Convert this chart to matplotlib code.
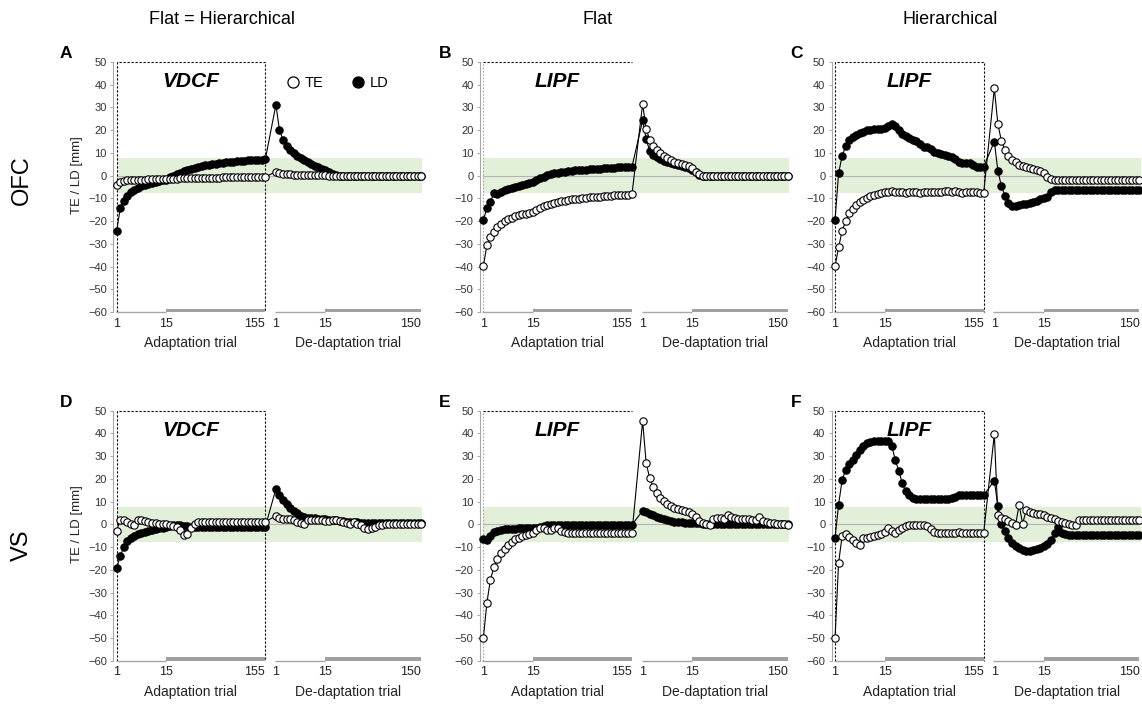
import numpy as np
import matplotlib.pyplot as plt
from matplotlib.lines import Line2D

plt.rcParams['font.family'] = ['Liberation Sans', 'DejaVu Sans']

# titles / labels
col_titles = ["Flat = Hierarchical", "Flat", "Hierarchical"]
row_titles = ["OFC", "VS"]
panel_letters = ["A", "B", "C", "D", "E", "F"]
controllers = ["VDCF", "LIPF", "LIPF", "VDCF", "LIPF", "LIPF"]
adapt_ticks = ["1", "15", "155"]
deadapt_ticks = ["1", "15", "150"]

# values: trials 1-15 one by one, after that means of 5 trials
# A  OFC, flat = hierarchical
a_ad_te = [-4.0, -2.8, -2.3, -2.0, -1.9, -1.8, -1.8, -1.7, -1.7, -1.6, -1.6, -1.5, -1.5, -1.5, -1.4,
           -1.4, -1.3, -1.3, -1.2, -1.2, -1.1, -1.1, -1.1, -1.0, -1.0, -1.0, -0.9, -0.9, -0.9,
           -0.9, -0.8, -0.8, -0.8, -0.8, -0.8, -0.7, -0.7, -0.7, -0.7, -0.7, -0.6, -0.6, -0.6]
a_ad_ld = [-24.5, -14.4, -11.0, -8.8, -7.3, -6.2, -5.4, -4.7, -4.1, -3.6, -3.2, -2.8, -2.5, -2.1, -1.8,
           -0.8, -0.1, 0.6, 1.3, 1.9, 2.5, 3.0, 3.4, 3.8, 4.2, 4.5, 4.8, 5.1, 5.3,
           5.5, 5.7, 5.9, 6.1, 6.2, 6.3, 6.5, 6.6, 6.7, 6.8, 6.9, 7.0, 7.1, 7.2]
a_de_te = [1.8, 1.2, 0.9, 0.7, 0.6, 0.5, 0.4, 0.4, 0.3, 0.3, 0.2, 0.2, 0.2, 0.1, 0.1,
           0.0, 0.0, 0.0, 0.0, 0.0, 0.0, 0.0, 0.0, 0.0, 0.0, 0.0, 0.0, 0.0, 0.0,
           0.0, 0.0, 0.0, 0.0, 0.0, 0.0, 0.0, 0.0, 0.0, 0.0, 0.0, 0.0, 0.0]
a_de_ld = [31.2, 20.0, 15.9, 13.2, 11.5, 10.0, 8.8, 7.8, 6.8, 6.0, 5.2, 4.4, 3.7, 3.0, 2.4,
           1.6, 0.6, 0.1, 0.0, 0.0, 0.0, 0.0, 0.0, 0.0, 0.0, 0.0, 0.0, 0.0, 0.0,
           0.0, 0.0, 0.0, 0.0, 0.0, 0.0, 0.0, 0.0, 0.0, 0.0, 0.0, 0.0, 0.0]

# B  OFC, flat
b_ad_te = [-39.9, -30.6, -26.9, -24.6, -22.6, -21.3, -20.1, -19.3, -18.5, -17.9, -17.5, -17.1, -16.8, -16.5, -15.9,
           -15.0, -14.2, -13.5, -12.9, -12.4, -12.0, -11.6, -11.3, -11.0, -10.7, -10.5, -10.3, -10.1, -9.9,
           -9.7, -9.6, -9.4, -9.3, -9.2, -9.0, -8.9, -8.8, -8.7, -8.6, -8.5, -8.4, -8.3, -8.1]
b_ad_ld = [-19.6, -14.3, -11.6, -7.6, -8.1, -7.2, -6.5, -5.9, -5.4, -5.0, -4.6, -4.1, -3.7, -3.4, -2.9,
           -2.0, -1.2, -0.5, 0.1, 0.6, 1.0, 1.3, 1.6, 1.8, 2.0, 2.2, 2.3, 2.5, 2.6,
           2.7, 2.8, 2.9, 3.0, 3.1, 3.2, 3.3, 3.4, 3.5, 3.6, 3.7, 3.8, 3.9, 4.0]
b_de_te = [31.6, 20.4, 15.9, 13.2, 11.5, 10.0, 8.5, 7.6, 6.8, 6.2, 5.6, 5.1, 4.7, 4.1, 3.5,
           1.8, 0.6, 0.0, 0.0, 0.0, 0.0, 0.0, 0.0, 0.0, 0.0, 0.0, 0.0, 0.0, 0.0,
           0.0, 0.0, 0.0, 0.0, 0.0, 0.0, 0.0, 0.0, 0.0, 0.0, 0.0, 0.0, 0.0]
b_de_ld = [24.3, 16.2, 10.7, 9.3, 8.2, 7.4, 6.6, 6.0, 5.4, 5.0, 4.6, 4.1, 3.7, 3.2, 2.6,
           1.5, 0.4, 0.0, 0.0, 0.0, 0.0, 0.0, 0.0, 0.0, 0.0, 0.0, 0.0, 0.0, 0.0,
           0.0, 0.0, 0.0, 0.0, 0.0, 0.0, 0.0, 0.0, 0.0, 0.0, 0.0, 0.0, 0.0]

# C  OFC, hierarchical
c_ad_te = [-39.9, -31.6, -24.3, -20.0, -16.6, -14.7, -13.1, -11.8, -10.7, -9.7, -9.0, -8.4, -7.9, -7.5, -7.2,
           -7.0, -6.8, -7.2, -7.4, -7.3, -7.5, -7.3, -7.2, -7.4, -7.5, -7.3, -7.2, -7.0, -7.2,
           -7.4, -7.1, -6.9, -6.8, -7.0, -6.9, -7.3, -7.5, -7.4, -7.2, -7.0, -7.3, -7.5, -7.5]
c_ad_ld = [-19.6, 1.0, 8.7, 12.9, 15.9, 17.1, 18.1, 18.8, 19.4, 19.9, 20.1, 20.4, 20.6, 20.7, 21.0,
           22.0, 22.8, 21.8, 20.0, 18.3, 17.5, 16.6, 15.9, 15.2, 14.0, 12.8, 12.4, 11.6, 10.6,
           10.0, 9.6, 9.0, 8.6, 8.0, 7.4, 5.8, 5.4, 5.4, 5.5, 4.8, 3.8, 3.7, 3.9]
c_de_te = [38.4, 22.7, 15.3, 11.4, 8.5, 7.0, 5.9, 4.9, 4.2, 3.7, 3.3, 2.9, 2.5, 1.9, 1.2,
           -0.4, -1.4, -2.0, -2.1, -2.1, -2.1, -2.1, -2.1, -2.1, -2.1, -2.1, -2.1, -2.1, -2.1,
           -2.1, -2.1, -2.1, -2.1, -2.1, -2.1, -2.1, -2.1, -2.1, -2.1, -2.1, -2.1, -2.1]
c_de_ld = [15.0, 2.2, -4.7, -8.8, -12.0, -13.4, -13.3, -13.0, -12.6, -12.3, -11.9, -11.5, -11.0, -10.5, -9.9,
           -9.2, -7.0, -6.5, -6.5, -6.5, -6.5, -6.5, -6.5, -6.5, -6.5, -6.5, -6.5, -6.5, -6.5,
           -6.5, -6.5, -6.5, -6.5, -6.5, -6.5, -6.5, -6.5, -6.5, -6.5, -6.5, -6.5, -6.5]

# D  VS, flat = hierarchical
d_ad_te = [-2.9, 2.1, 1.8, 1.0, 0.3, -0.4, 1.8, 2.1, 1.5, 1.0, 0.6, 0.4, 0.2, 0.0, 0.3,
           -0.2, -0.6, -1.2, -2.3, -4.8, -4.1, -1.5, 0.3, 0.9, 1.0, 1.0, 1.0, 1.0, 1.0,
           1.0, 1.0, 1.0, 1.0, 1.0, 1.0, 1.0, 1.1, 1.1, 1.1, 1.1, 1.1, 1.1, 1.1]
d_ad_ld = [-19.4, -14.0, -10.0, -7.5, -6.0, -5.0, -4.3, -3.7, -3.2, -2.8, -2.4, -2.1, -1.8, -1.5, -1.2,
           -0.8, -0.5, -0.3, -0.3, -0.6, -0.9, -1.0, -1.0, -1.0, -1.0, -1.0, -1.0, -1.0, -1.0,
           -1.0, -1.0, -1.0, -1.0, -1.0, -1.0, -1.0, -1.0, -1.0, -1.0, -1.0, -1.0, -1.0, -1.0]
d_de_te = [3.8, 2.9, 2.3, 2.2, 2.5, 1.8, 1.0, 0.4, 0.0, 1.8, 2.1, 2.0, 1.9, 1.7, 1.5,
           1.5, 2.0, 2.0, 1.5, 1.0, 0.7, 0.3, 0.9, 0.2, -0.5, -1.5, -1.9, -1.8, -1.3,
           -0.5, -0.1, 0.0, 0.0, 0.0, 0.0, 0.0, 0.0, 0.0, 0.0, 0.0, 0.0, 0.0]
d_de_ld = [15.6, 12.8, 10.8, 8.9, 7.4, 6.0, 4.8, 3.8, 3.2, 2.9, 2.8, 2.7, 2.5, 2.4, 2.3,
           2.1, 2.0, 1.8, 1.6, 1.4, 1.2, 1.1, 1.0, 0.9, 0.8, 0.7, 0.7, 0.7, 0.7,
           0.7, 0.7, 0.7, 0.7, 0.7, 0.7, 0.7, 0.7, 0.7, 0.7, 0.7, 0.7, 0.7]

# E  VS, flat
e_ad_te = [-50.1, -34.6, -24.3, -18.9, -15.4, -12.7, -10.7, -9.1, -7.8, -6.6, -5.8, -5.1, -4.5, -4.1, -3.9,
           -2.5, -1.8, -1.6, -2.4, -2.4, -1.8, -1.6, -2.8, -3.5, -3.7, -3.7, -3.7, -3.7, -3.7,
           -3.7, -3.7, -3.7, -3.7, -3.7, -3.7, -3.7, -3.7, -3.7, -3.7, -3.7, -3.7, -3.7, -3.7]
e_ad_ld = [-6.6, -7.0, -5.0, -3.5, -2.8, -2.3, -2.1, -2.0, -1.9, -1.9, -1.8, -1.8, -1.8, -1.7, -1.7,
           -1.4, -1.0, -0.7, -0.5, -0.3, -0.2, -0.2, -0.2, -0.2, -0.2, -0.2, -0.2, -0.2, -0.2,
           -0.2, -0.2, -0.2, -0.2, -0.2, -0.2, -0.2, -0.2, -0.2, -0.2, -0.2, -0.2, -0.2, -0.2]
e_de_te = [45.5, 26.9, 20.3, 16.5, 13.9, 11.8, 10.2, 8.9, 7.9, 7.2, 6.6, 6.1, 5.7, 5.3, 4.5,
           3.1, 1.6, 0.7, 0.1, -0.1, 2.2, 2.8, 2.8, 2.3, 4.2, 3.1, 2.8, 2.5, 2.3,
           2.2, 2.2, 2.0, 1.9, 3.4, 1.6, 1.2, 0.7, 0.4, 0.3, 0.1, 0.0, -0.3]
e_de_ld = [6.0, 5.3, 4.5, 3.9, 3.4, 2.8, 2.3, 1.9, 1.5, 1.2, 1.0, 0.9, 0.8, 0.7, 0.6,
           0.5, 0.4, 0.3, 0.2, 0.2, 0.2, 0.2, 0.2, 0.2, 0.2, 0.2, 0.2, 0.2, 0.2,
           0.2, 0.2, 0.2, 0.2, 0.2, 0.2, 0.2, 0.2, 0.2, 0.2, 0.2, 0.2, 0.2]

# F  VS, hierarchical
f_ad_te = [-50.1, -17.0, -5.2, -4.4, -5.5, -7.0, -8.3, -9.0, -6.2, -5.8, -5.6, -5.2, -4.8, -4.2, -3.2,
           -1.6, -2.8, -4.0, -2.5, -1.4, -0.8, -0.5, -0.4, -0.4, -0.4, -0.5, -0.9, -1.9, -3.2,
           -3.6, -4.0, -4.0, -4.0, -4.0, -3.7, -3.5, -3.6, -3.6, -3.6, -3.6, -3.6, -3.6, -3.6]
f_ad_ld = [-6.0, 8.7, 19.5, 24.0, 26.5, 28.3, 30.5, 32.6, 34.6, 35.6, 36.2, 36.5, 36.6, 36.7, 36.7,
           36.6, 34.6, 28.5, 23.5, 18.0, 14.5, 12.8, 11.8, 11.2, 11.0, 11.0, 11.0, 11.0, 11.0,
           11.0, 11.0, 11.0, 11.0, 11.5, 12.2, 12.8, 12.8, 12.8, 12.8, 12.8, 12.8, 12.8, 12.8]
f_de_te = [39.6, 4.0, 3.0, 2.2, 1.5, 0.8, -0.2, 8.5, 0.3, 6.2, 5.6, 5.1, 4.7, 4.4, 4.0,
           3.3, 2.7, 2.2, 1.6, 1.1, 0.6, 0.2, -0.2, -0.4, 1.8, 1.8, 1.8, 1.8, 1.8,
           1.8, 1.8, 1.8, 1.9, 1.9, 1.9, 1.9, 1.9, 1.9, 2.0, 2.0, 2.0, 2.0]
f_de_ld = [19.2, 8.1, 0.3, -2.9, -5.9, -8.1, -9.5, -10.5, -11.4, -11.7, -11.6, -11.3, -10.8, -10.3, -9.6,
           -8.8, -7.0, -4.0, -1.2, -3.8, -4.3, -4.5, -4.5, -4.5, -4.5, -4.5, -4.5, -4.5, -4.5,
           -4.5, -4.5, -4.5, -4.5, -4.5, -4.5, -4.5, -4.5, -4.5, -4.5, -4.5, -4.5, -4.5]

panels = [
    (a_ad_te, a_ad_ld, a_de_te, a_de_ld),
    (b_ad_te, b_ad_ld, b_de_te, b_de_ld),
    (c_ad_te, c_ad_ld, c_de_te, c_de_ld),
    (d_ad_te, d_ad_ld, d_de_te, d_de_ld),
    (e_ad_te, e_ad_ld, e_de_te, e_de_ld),
    (f_ad_te, f_ad_ld, f_de_te, f_de_ld),
]

W, H = 1142, 704
GAP = 3          # empty slots between the two phases
BAND = 7.7       # green target band
green = '#e2efd9'
grey = '#a6a6a6'

fig = plt.figure(figsize=(W / 100, H / 100), dpi=100)

lefts = [113.1, 479.8, 831.5]     # px
bottoms = [312.0, 660.7]          # px of the y=-60 line
ax_w, ax_h = 311.5, 250.0


def draw_panel(ax, ad_te, ad_ld, de_te, de_ld, ctrl, closed):
    x_ad = np.arange(len(ad_te))
    x_de = x_ad[-1] + GAP + np.arange(len(de_te))
    x = np.concatenate([x_ad, x_de])
    te = np.concatenate([ad_te, de_te])
    ld = np.concatenate([ad_ld, de_ld])

    ax.fill_between([x[0], x[-1] + 0.4], -BAND, BAND, color=green, lw=0, zorder=0)
    ax.plot([x[0], x[-1]], [0, 0], color='#b4b4b4', lw=0.8, zorder=1)

    # dashed frame round the adaptation phase
    if closed:
        ax.plot([x_ad[0], x_ad[0], x_ad[-1], x_ad[-1]], [-60, 50, 50, -60],
                color='black', lw=0.8, ls=(0, (2, 1.6)), zorder=2, clip_on=False)
    else:
        ax.plot([x_ad[0], x_ad[0]], [-60, 50], color=grey, lw=0.8, ls=(0, (1.5, 1.5)),
                zorder=2, clip_on=False)
        ax.plot([x_ad[0], x_ad[-1]], [50, 50], color='black', lw=0.8, ls=(0, (2, 1.6)),
                zorder=2, clip_on=False)

    ax.plot(x, ld, '-o', color='black', lw=0.8, ms=5.3, mfc='black', mec='black',
            mew=0.8, zorder=3, clip_on=False)
    ax.plot(x, te, '-o', color='black', lw=0.8, ms=5.3, mfc='white', mec='black',
            mew=0.8, zorder=4, clip_on=False)

    # x axis: thin line for single trials, thick bar for binned trials
    for seg in (x_ad, x_de):
        ax.plot([seg[0] - 0.3, seg[14]], [-60, -60], color=grey, lw=1.0, zorder=2,
                clip_on=False, solid_capstyle='butt')
        ax.fill_between([seg[14], seg[-1]], -60, -58.5, color='#a0a0a0', lw=0,
                        zorder=2, clip_on=False)

    ax.set_xlim(-1, x[-1] + 1)
    ax.set_ylim(-60, 50)
    ax.set_yticks(np.arange(-60, 51, 10))
    ax.set_xticks([x_ad[0], x_ad[14], x_ad[-1], x_de[0], x_de[14], x_de[-1]])
    ax.set_xticklabels(adapt_ticks + deadapt_ticks)
    for i, lab in enumerate(ax.get_xticklabels()):
        if i in (2, 5):
            lab.set_horizontalalignment('right')
    ax.tick_params(axis='x', length=0, pad=4, labelsize=9, colors='#222222')
    ax.tick_params(axis='y', length=2.5, width=0.7, pad=2, labelsize=8,
                   colors=grey, labelcolor='#333333')
    for s in ('top', 'right', 'bottom'):
        ax.spines[s].set_visible(False)
    ax.spines['left'].set_color(grey)
    ax.spines['left'].set_linewidth(0.8)
    ax.set_facecolor('none')

    for seg, lab in ((x_ad, "Adaptation trial"), (x_de, "De-daptation trial")):
        ax.annotate(lab, xy=((seg[0] + seg[-1]) / 2, 0), xycoords=('data', 'axes fraction'),
                    xytext=(0, -22.5), textcoords='offset points', ha='center', va='center',
                    fontsize=10, color='#222222')

    ax.text((x_ad[0] + x_ad[-1]) / 2, 41.5, ctrl, ha='center', va='center',
            fontsize=15, fontweight='bold', fontstyle='italic')
    return x_ad, x_de


for k, (ad_te, ad_ld, de_te, de_ld) in enumerate(panels):
    r, c = divmod(k, 3)
    ax = fig.add_axes([lefts[c] / W, 1 - bottoms[r] / H, ax_w / W, ax_h / H])
    closed = c != 1
    draw_panel(ax, ad_te, ad_ld, de_te, de_ld, controllers[k], closed)
    top_px = bottoms[r] - ax_h
    fig.text((lefts[c] - 47 + 12 * (c > 0)) / W, 1 - (top_px - 8) / H, panel_letters[k],
             fontsize=12.5, fontweight='bold', ha='center', va='center')
    if c == 0:
        fig.text(76.7 / W, 1 - (top_px + 113) / H, "TE / LD [mm]", rotation=90,
                 ha='center', va='center', fontsize=9.5, color='#222222')
    if k == 0:
        handles = [Line2D([], [], ls='none', marker='o', ms=8, mfc='white', mec='black', mew=0.9),
                   Line2D([], [], ls='none', marker='o', ms=8, mfc='black', mec='black', mew=0.9)]
        ax.legend(handles, ["TE", "LD"], ncol=2, loc='center right',
                  bbox_to_anchor=(0.885, 0.917), frameon=False, fontsize=10.5,
                  handlelength=0.8, handletextpad=0.4, columnspacing=2.0,
                  borderpad=0, borderaxespad=0)

col_x = [222, 598, 950]
for t, cx in zip(col_titles, col_x):
    fig.text(cx / W, 1 - 20 / H, t, ha='center', va='center', fontsize=13)

for t, cy in zip(row_titles, [180, 545]):
    fig.text(22 / W, 1 - cy / H, t, rotation=90, ha='center', va='center', fontsize=17)

fig.savefig('out.png', dpi=100)
